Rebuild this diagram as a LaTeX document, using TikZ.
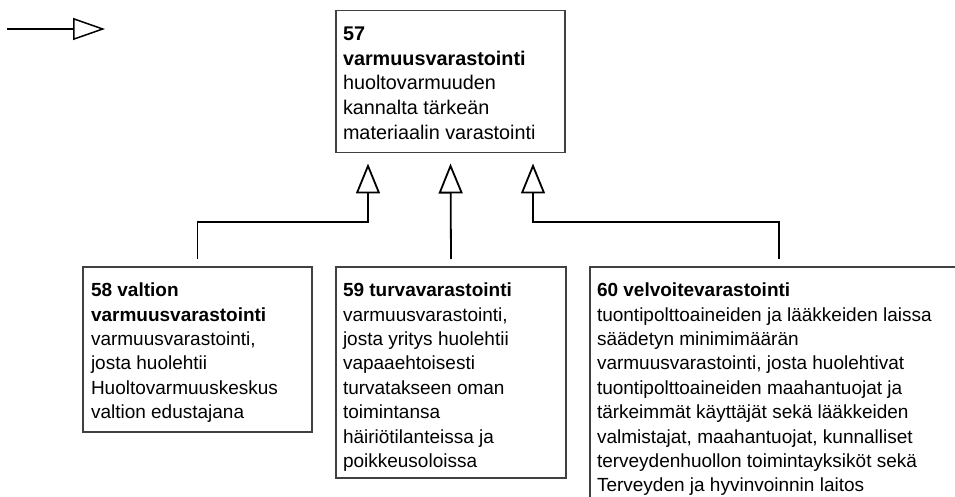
\documentclass[tikz,border=0pt]{standalone}
\usepackage{fontspec}
\setmainfont{Liberation Sans}
\usetikzlibrary{arrows.meta,calc}
\definecolor{boxgray}{RGB}{64,64,64}
\begin{document}
\begin{tikzpicture}[x=1pt,y=-1pt,
  box/.style={draw=boxgray,line width=1.3pt,anchor=north west,inner sep=0pt,outer sep=0pt},
  txt/.style={anchor=north west,inner sep=0pt,outer sep=0pt,align=left,font=\fontsize{19}{24.4}\selectfont},
  txtbig/.style={txt,font=\fontsize{19.8}{24.6}\selectfont},
  conn/.style={line width=1.8pt,-{Triangle[open,length=30pt,width=24pt]}},
  legendarrow/.style={line width=1.5pt,-{Triangle[open,length=32pt,width=22pt]}}]
\useasboundingbox (0,0) rectangle (955,497);
% legend arrow
\coordinate (la) at (7,29);
\coordinate (lb) at (105,29);
\draw[legendarrow] (la) -- (lb);
% boxes
\node[box,minimum width=229pt,minimum height=142pt] (b57) at (336,10.5) {};
\node[box,minimum width=229pt,minimum height=165pt] (b58) at (83,267) {};
\node[box,minimum width=230pt,minimum height=211pt] (b59) at (336,267) {};
\node[box,minimum width=378pt,minimum height=250pt] (b60) at (590,267) {};
% texts
\node[txtbig] (t57) at ([shift={(7pt,-16.5pt)}]b57.north west)
  {\textbf{57}\\\textbf{varmuusvarastointi}\\huoltovarmuuden\\kannalta tärkeän\\materiaalin varastointi};
\node[txt] (t58) at ([shift={(8pt,-16pt)}]b58.north west)
  {\textbf{58 valtion}\\\textbf{varmuusvarastointi}\\varmuusvarastointi,\\josta huolehtii\\Huoltovarmuuskeskus\\valtion edustajana};
\node[txt] (t59) at ([shift={(7pt,-16pt)}]b59.north west)
  {\textbf{59 turvavarastointi}\\varmuusvarastointi,\\josta yritys huolehtii\\vapaaehtoisesti\\turvatakseen oman\\toimintansa\\häiriötilanteissa ja\\poikkeusoloissa};
\node[txt] (t60) at ([shift={(7pt,-16pt)}]b60.north west)
  {\textbf{60 velvoitevarastointi}\\tuontipolttoaineiden ja lääkkeiden laissa\\säädetyn minimimäärän\\varmuusvarastointi, josta huolehtivat\\tuontipolttoaineiden maahantuojat ja\\tärkeimmät käyttäjät sekä lääkkeiden\\valmistajat, maahantuojat, kunnalliset\\terveydenhuollon toimintayksiköt sekä\\Terveyden ja hyvinvoinnin laitos};
% connector ends
\coordinate (tip1) at ([shift={(-82.5pt,-11pt)}]b57.south);
\coordinate (tip2) at ([shift={(0pt,-11pt)}]b57.south);
\coordinate (tip3) at ([shift={(82.5pt,-11pt)}]b57.south);
\coordinate (s58) at ([yshift=8pt]b58.north);
\coordinate (s59) at ([yshift=8pt]b59.north);
\coordinate (s60) at ([yshift=8pt]b60.north);
\coordinate (lvl) at (0,222);
\draw[conn] (s58) |- (tip1 |- lvl) -- (tip1);
\draw[conn] (s59) -- (tip2);
\draw[conn] (s60) |- (tip3 |- lvl) -- (tip3);
\end{tikzpicture}
\end{document}
